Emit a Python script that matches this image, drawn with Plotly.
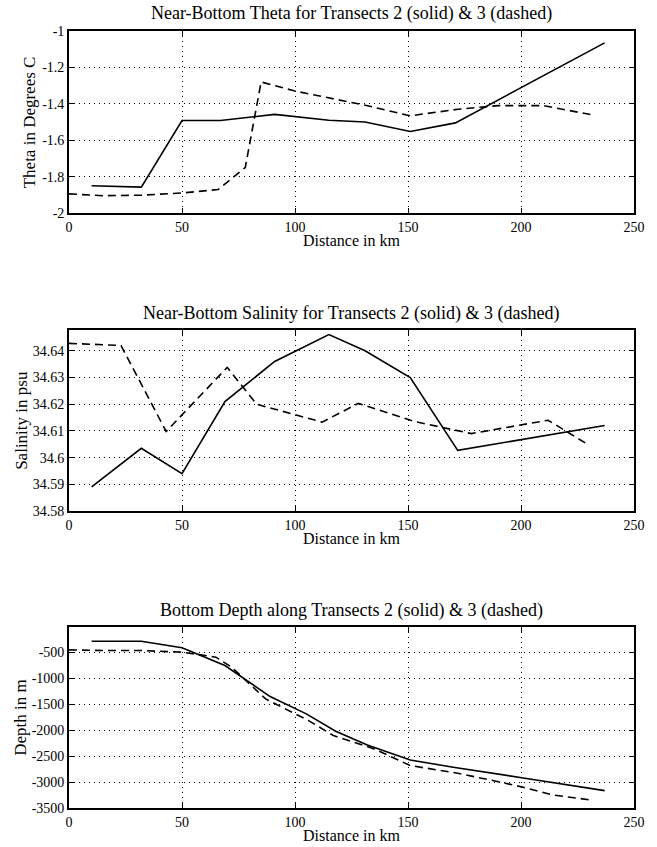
import plotly.graph_objects as go

# ---------------- data ----------------
theta_t2_km = [10, 32, 50, 67, 91, 115, 131, 151, 171, 237]
theta_t2 = [-1.85, -1.858, -1.492, -1.492, -1.458, -1.49, -1.50, -1.552, -1.505, -1.065]
theta_t3_km = [0, 15, 32, 50, 66, 78, 85, 100, 130, 151, 172, 190, 210, 232]
theta_t3 = [-1.895, -1.905, -1.902, -1.89, -1.871, -1.75, -1.28, -1.33, -1.405, -1.466, -1.43, -1.41, -1.41, -1.462]

sal_t2_km = [10, 32, 50, 69, 91, 115, 131, 151, 172, 237]
sal_t2 = [34.589, 34.6035, 34.594, 34.621, 34.636, 34.6461, 34.640, 34.630, 34.6027, 34.612]
sal_t3_km = [0, 23, 43, 70, 83, 112, 128, 153, 178, 212, 229]
sal_t3 = [34.6428, 34.642, 34.6098, 34.6338, 34.620, 34.6133, 34.6203, 34.6135, 34.609, 34.614, 34.6052]

dep_t2_km = [10, 32, 50, 69, 89, 105, 118, 132, 151, 170, 201, 237]
dep_t2 = [-288, -288, -416, -757, -1354, -1688, -2022, -2285, -2575, -2716, -2921, -3165]
dep_t3_km = [0, 15, 32, 50, 65, 72, 87, 106, 117, 135, 151, 172, 189, 201, 214, 231]
dep_t3 = [-455, -468, -468, -500, -596, -789, -1400, -1817, -2106, -2362, -2683, -2831, -2985, -3100, -3249, -3346]

x_ticks = [0, 50, 100, 150, 200, 250]
theta_ticks = [-2, -1.8, -1.6, -1.4, -1.2, -1]
theta_ticktext = ["-2", "-1.8", "-1.6", "-1.4", "-1.2", "-1"]
sal_ticks = [34.58, 34.59, 34.60, 34.61, 34.62, 34.63, 34.64]
sal_ticktext = ["34.58", "34.59", "34.6", "34.61", "34.62", "34.63", "34.64"]
dep_ticks = [-3500, -3000, -2500, -2000, -1500, -1000, -500]
dep_ticktext = ["-3500", "-3000", "-2500", "-2000", "-1500", "-1000", "-500"]

titles = ["Near-Bottom Theta for Transects 2 (solid) & 3 (dashed)",
          "Near-Bottom Salinity for Transects 2 (solid) & 3 (dashed)",
          "Bottom Depth along Transects 2 (solid) & 3 (dashed)"]
ylabels = ["Theta in Degrees C", "Salinity in psu", "Depth in m"]
xlabel = "Distance in km"

# ---------------- layout geometry ----------------
W, H = 657, 847
L, R, T, B = 69, 19, 31, 39
PW = W - L - R
PH = H - T - B
panels_px = [(31, 213), (330, 511), (627, 808)]  # (top, bottom) in pixels
ylabel_px = [29, 21, 20]


def py2paper(py):
    return (H - B - py) / PH


def px2paper(px):
    return (px - L) / PW


FONT = "Liberation Serif"

fig = go.Figure()

series = [
    (theta_t2_km, theta_t2, theta_t3_km, theta_t3),
    (sal_t2_km, sal_t2, sal_t3_km, sal_t3),
    (dep_t2_km, dep_t2, dep_t3_km, dep_t3),
]
for i, (x2, y2, x3, y3) in enumerate(series):
    suf = "" if i == 0 else str(i + 1)
    fig.add_trace(go.Scatter(x=x2, y=y2, mode="lines", xaxis="x" + suf, yaxis="y" + suf,
                             line=dict(color="black", width=1.6), showlegend=False))
    fig.add_trace(go.Scatter(x=x3, y=y3, mode="lines", xaxis="x" + suf, yaxis="y" + suf,
                             line=dict(color="black", width=1.6, dash="8px,5px"), showlegend=False))

common = dict(showline=True, linecolor="black", linewidth=1.8, mirror="ticks",
              ticks="inside", ticklen=5, tickcolor="black", tickwidth=1,
              showgrid=True, gridcolor="black", gridwidth=1, griddash="1px,4px",
              zeroline=False, tickfont=dict(family=FONT, size=14, color="black"))

yranges = [[-2, -1], [34.58, 34.6478], [-3500, -15]]
yticks = [(theta_ticks, theta_ticktext), (sal_ticks, sal_ticktext), (dep_ticks, dep_ticktext)]

layout = dict(width=W, height=H, margin=dict(l=L, r=R, t=T, b=B),
              paper_bgcolor="white", plot_bgcolor="white", showlegend=False)
annotations = []
for i in range(3):
    suf = "" if i == 0 else str(i + 1)
    top, bot = panels_px[i]
    layout["xaxis" + suf] = dict(common, domain=[0, 1], range=[0, 250], tickvals=x_ticks,
                                 ticktext=[str(v) for v in x_ticks],
                                 anchor="y" + suf)
    layout["yaxis" + suf] = dict(common, domain=[py2paper(bot), py2paper(top)],
                                 range=yranges[i], tickvals=yticks[i][0], ticktext=yticks[i][1],
                                 anchor="x" + suf)
    # title
    annotations.append(dict(text=titles[i], xref="paper", yref="paper",
                            x=0.5, y=py2paper(top - 17), xanchor="center", yanchor="middle",
                            showarrow=False, font=dict(family=FONT, size=18, color="black")))
    # x label
    annotations.append(dict(text=xlabel, xref="paper", yref="paper",
                            x=0.5, y=py2paper(bot + 18), xanchor="center", yanchor="top",
                            borderpad=0,
                            showarrow=False, font=dict(family=FONT, size=16, color="black")))
    # y label
    annotations.append(dict(text=ylabels[i], xref="paper", yref="paper",
                            x=px2paper(ylabel_px[i]), y=py2paper((top + bot) / 2), xanchor="center",
                            yanchor="middle", textangle=-90,
                            showarrow=False, font=dict(family=FONT, size=17, color="black")))

layout["annotations"] = annotations
fig.update_layout(**layout)
fig.write_html("out.html")
